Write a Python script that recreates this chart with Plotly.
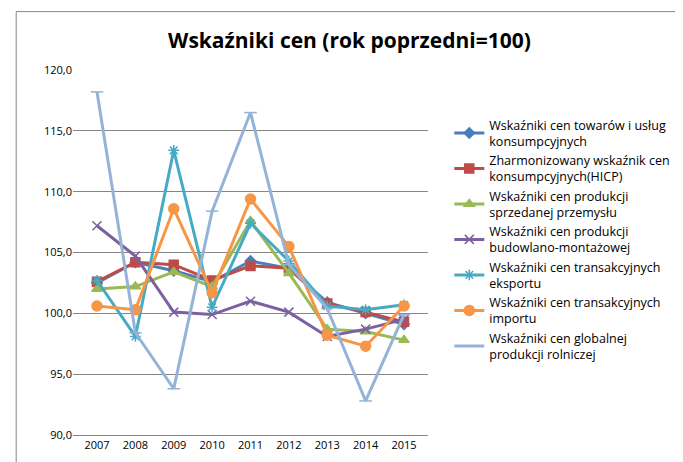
import plotly.graph_objects as go

years = ["2007","2008","2009","2010","2011","2012","2013","2014","2015"]
names = ["Wskaźniki cen towarów i usług<br>konsumpcyjnych",
         "Zharmonizowany wskaźnik cen<br>konsumpcyjnych(HICP)",
         "Wskaźniki cen produkcji<br>sprzedanej przemysłu",
         "Wskaźniki cen produkcji<br>budowlano-montażowej",
         "Wskaźniki cen transakcyjnych<br>eksportu",
         "Wskaźniki cen transakcyjnych<br>importu",
         "Wskaźniki cen globalnej<br>produkcji rolniczej"]
cpi = [102.5, 104.2, 103.5, 102.6, 104.3, 103.7, 100.9, 100.0, 99.1]
hicp = [102.6, 104.2, 104.0, 102.7, 103.9, 103.7, 100.8, 100.1, 99.3]
ppi = [102.0, 102.2, 103.4, 102.2, 107.6, 103.3, 98.7, 98.5, 97.8]
constr = [107.2, 104.7, 100.1, 99.9, 101.0, 100.1, 98.1, 98.7, 99.5]
export = [102.7, 98.1, 113.4, 100.5, 107.4, 104.3, 100.6, 100.3, 100.7]
imp = [100.6, 100.3, 108.6, 101.7, 109.4, 105.5, 98.2, 97.3, 100.6]
agri = [118.2, 98.4, 93.8, 108.4, 116.5, 104.0, 100.4, 92.8, 99.9]

series = [cpi, hicp, ppi, constr, export, imp, agri]
colors = ["#4a7ebb", "#be4b48", "#98b954", "#7d60a0", "#46aac5", "#f79646", "#95b3d7"]
symbols = ["diamond", "square", "triangle-up", "x-thin", "asterisk-open", "circle", "line-ew"]
sizes = [8, 9, 9, 9, 9, 10, 9]

fig = go.Figure()
for n, s, c, sy, sz in zip(names, series, colors, symbols, sizes):
    fig.add_trace(go.Scatter(x=years, y=s, name=n, mode="lines+markers",
                             line=dict(color=c, width=3),
                             marker=dict(symbol=sy, size=sz, color=c,
                                         line=dict(color=c, width=1.5))))

fig.update_layout(
    width=683, height=462,
    paper_bgcolor="white", plot_bgcolor="white",
    title=dict(text="<b>Wskaźniki cen (rok poprzedni=100)</b>", x=0.5, xanchor="center",
               y=0.93, yanchor="middle", font=dict(family="Open Sans", size=21, color="black")),
    font=dict(family="Open Sans", size=11, color="black"),
    margin=dict(l=65, r=263, t=62, b=35),
    xaxis=dict(showgrid=False, showline=True, linecolor="#868686", ticks="", tickfont=dict(size=11)),
    yaxis=dict(range=[90, 120], dtick=5, tickformat=".1f", gridcolor="#868686",
               showline=False, zeroline=False, ticks=""),
    separators=",.",
    legend=dict(x=1.06, y=0.89, yanchor="top", xanchor="left",
                font=dict(size=12.5), tracegroupgap=8, itemwidth=30),
    shapes=[dict(type="rect", xref="paper", yref="paper", x0=-0.16, x1=1.72, y0=-0.09, y1=1.16,
                 line=dict(color="#868686", width=1), layer="above")],
)
fig.write_html("out.html")
